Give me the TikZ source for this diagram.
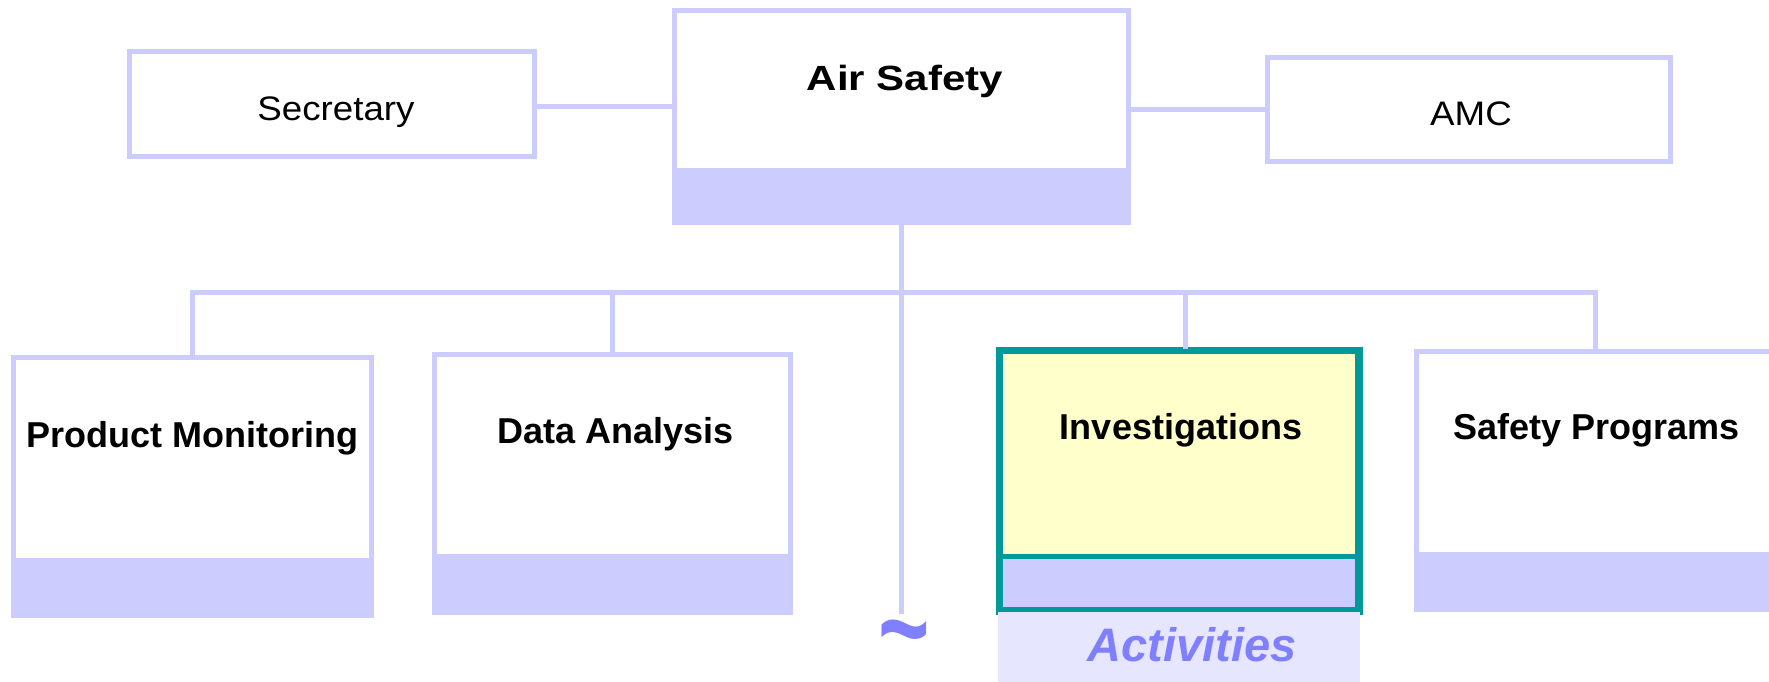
\documentclass[tikz,border=0pt]{standalone}
\usepackage{fontspec}
\setmainfont{Liberation Sans}
\usetikzlibrary{positioning}
\definecolor{lav}{HTML}{CCCCFF}
\definecolor{invteal}{HTML}{009999}
\definecolor{invyel}{HTML}{FFFFCC}
\definecolor{actbg}{HTML}{E6E6FF}
\definecolor{actblue}{HTML}{8080FF}

\begin{document}
\begin{tikzpicture}[x=1pt,y=-1pt,
  box/.style={rectangle, draw=lav, line width=5pt, fill=white, inner sep=0pt},
  band/.style={path picture={\fill[lav] ([yshift=#1]path picture bounding box.south west) rectangle (path picture bounding box.south east);}},
  link/.style={draw=lav, line width=5pt},
  toplbl/.style={anchor=base, inner sep=0pt, xscale=1.08, font=\fontsize{34}{40}\selectfont},
  headlbl/.style={anchor=base, inner sep=0pt, xscale=1.2, font=\fontsize{35}{42}\selectfont\bfseries},
  lbl/.style={anchor=base, inner sep=0pt, font=\fontsize{36}{43}\selectfont\bfseries}]
\useasboundingbox (0,0) rectangle (1769,682);
\clip (0,0) rectangle (1769,682);

% top row
\node[box, band=54.5, minimum width=454, minimum height=212] (air) at (901.5,116.5) {};
\node[box, minimum width=405, minimum height=105] (sec) at (332,104) {};
\node[box, minimum width=403, minimum height=104] (amc) at (1469,109.5) {};

% units
\node[box, band=58, minimum width=358, minimum height=258] (pm) at (192.5,486.5) {};
\node[box, band=58.5, minimum width=356, minimum height=258] (da) at (612.5,483.5) {};
\node[box, draw=invteal, fill=invyel, band=55.5, minimum width=357, minimum height=258] (inv) at (1179,480.5) {};
\draw[invteal, line width=5pt] (inv.south west) rectangle (inv.north east);
\draw[invteal, line width=5pt] ([yshift=55.5pt]inv.south west) -- ([yshift=55.5pt]inv.south east);
\node[box, band=57.5, minimum width=357, minimum height=258] (sp) at (1595,480.5) {};
\node[fill=actbg, inner sep=0pt, minimum width=362, minimum height=70] (act) at (1179,647) {};

% connectors
\coordinate (bus) at (0,292);
\coordinate (tail) at (901.5,614);
\draw[link] ([yshift=-3pt]sec.east) -- ([yshift=-3pt]sec.east -| air.west);
\draw[link] (air.east |- amc.west) -- (amc.west);
\draw[link] (air.south) -- (tail);
\draw[link] (pm.north) |- (sp.north |- bus) -- (sp.north);
\draw[link] (da.north) -- (da.north |- bus);
\draw[link] ([xshift=6pt]inv.north) -- ([xshift=6pt]inv.north |- bus);

% texts
\node[toplbl] (sectxt) at (336,121) {Secretary};
\node[toplbl] (amctxt) at (1471,126) {AMC};
\node[headlbl] (airtxt) at (905,91) {Air Safety};
\node[lbl] (pmtxt) at (192.5,447) {Product Monitoring};
\node[lbl] (datxt) at (616,443) {Data Analysis};
\node[lbl] (invtxt) at (1181,439) {Investigations};
\node[lbl] (sptxt) at (1597,439) {Safety Programs};
\node[anchor=base, inner sep=0pt, text=actblue, font=\fontsize{47}{54}\selectfont\bfseries\itshape] (acttxt) at (1192,661) {Activities};
\node[anchor=base, inner sep=0pt, yscale=1.4, text height=30pt, text depth=0pt, text=actblue, font=\fontsize{88}{96}\selectfont\bfseries] (gap) at (904,670) {\textasciitilde};
\end{tikzpicture}
\end{document}
